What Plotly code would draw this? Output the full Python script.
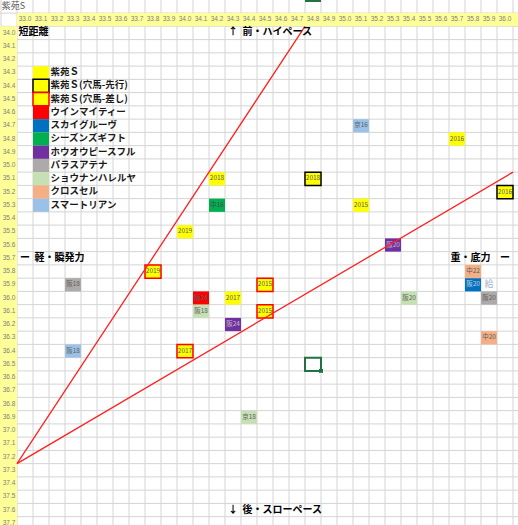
import plotly.graph_objects as go

# --- data ---
title = "紫苑S"
col_labels = ["33.0", "33.1", "33.2", "33.3", "33.4", "33.5", "33.6", "33.7", "33.8", "33.9",
              "34.0", "34.1", "34.2", "34.3", "34.4", "34.5", "34.6", "34.7", "34.8", "34.9",
              "35.0", "35.1", "35.2", "35.3", "35.4", "35.5", "35.6", "35.7", "35.8", "35.9", "36.0"]
row_labels = ["34.0", "34.1", "34.2", "34.3", "34.4", "34.5", "34.6", "34.7", "34.8", "34.9",
              "35.0", "35.1", "35.2", "35.3", "35.4", "35.5", "35.6", "35.7", "35.8", "35.9",
              "36.0", "36.1", "36.2", "36.3", "36.4", "36.5", "36.6", "36.7", "36.8", "36.9",
              "37.0", "37.1", "37.2", "37.3", "37.4", "37.5", "37.6", "37.7"]

shion_x = [34.2, 35.7, 35.1, 34.0, 34.3]
shion_y = [35.1, 34.8, 35.3, 35.5, 36.0]
shion_lbl = ["2018", "2016", "2015", "2019", "2017"]

senko_x = [34.8, 36.0]
senko_y = [35.1, 35.2]
senko_lbl = ["2018", "2016"]

sashi_x = [33.8, 34.5, 34.5, 34.0]
sashi_y = [35.8, 35.9, 36.1, 36.4]
sashi_lbl = ["2019", "2015", "2015", "2017"]

win_x, win_y, win_lbl = [34.1], [36.0], ["阪24"]
sky_x, sky_y, sky_lbl = [35.8], [35.9], ["阪20"]
season_x, season_y, season_lbl = [34.2], [35.3], ["中16"]
houou_x, houou_y, houou_lbl = [35.3, 34.3], [35.6, 36.2], ["阪20", "阪24"]
pallas_x, pallas_y, pallas_lbl = [33.3, 35.9], [35.9, 36.0], ["阪18", "阪20"]
shonan_x, shonan_y, shonan_lbl = [34.1, 35.4, 34.4], [36.1, 36.0, 36.9], ["阪18", "阪20", "京18"]
cross_x, cross_y, cross_lbl = [35.8, 35.9], [35.8, 36.3], ["中22", "中20"]
smart_x, smart_y, smart_lbl = [35.1, 33.3], [34.7, 36.4], ["京16", "阪18"]

# guide lines (pace / power)
pace_x, pace_y = [32.95, 34.75], [37.25, 33.95]
power_x, power_y = [32.95, 36.05], [37.25, 35.05]

series = [
    ("紫苑Ｓ", shion_x, shion_y, shion_lbl),
    ("紫苑Ｓ(穴馬-先行)", senko_x, senko_y, senko_lbl),
    ("紫苑Ｓ(穴馬-差し)", sashi_x, sashi_y, sashi_lbl),
    ("ウインマイティー", win_x, win_y, win_lbl),
    ("スカイグルーヴ", sky_x, sky_y, sky_lbl),
    ("シーズンズギフト", season_x, season_y, season_lbl),
    ("ホウオウピースフル", houou_x, houou_y, houou_lbl),
    ("パラスアテナ", pallas_x, pallas_y, pallas_lbl),
    ("ショウナンハレルヤ", shonan_x, shonan_y, shonan_lbl),
    ("クロスセル", cross_x, cross_y, cross_lbl),
    ("スマートリアン", smart_x, smart_y, smart_lbl),
]

# style per series: fill, border, label colour
style = {
    "紫苑Ｓ": ("#ffff00", None, "#5e5e5e"),
    "紫苑Ｓ(穴馬-先行)": ("#ffff00", "#000000", "#5e5e5e"),
    "紫苑Ｓ(穴馬-差し)": ("#ffff00", "#ff0000", "#5e5e5e"),
    "ウインマイティー": ("#ff0000", None, "#5e5e5e"),
    "スカイグルーヴ": ("#0070c0", None, "#c9d3de"),
    "シーズンズギフト": ("#00b050", None, "#4a4a4a"),
    "ホウオウピースフル": ("#7030a0", None, "#c6bccd"),
    "パラスアテナ": ("#aeaaaa", None, "#5e5e5e"),
    "ショウナンハレルヤ": ("#c6e0b4", None, "#5e5e5e"),
    "クロスセル": ("#f4b084", None, "#5e5e5e"),
    "スマートリアン": ("#9bc2e6", None, "#5e5e5e"),
}

JP = "Noto Sans CJK JP"
NUM = "Liberation Sans"
GRID = "#d4d4d4"
HDR = "#ffff99"
X0, X1 = 32.84375, 36.08125
Y0, Y1 = 33.751, 37.713
H = 0.05  # half a cell

fig = go.Figure()
shapes = []

# sheet grid
for i in range(33):
    x = 32.85 + i * 0.1
    shapes.append(dict(type="line", x0=x, x1=x, y0=Y0, y1=Y1, line=dict(color=GRID, width=1), layer="below"))
for i in range(41):
    y = 33.85 + i * 0.1
    shapes.append(dict(type="line", x0=X0, x1=X1, y0=y, y1=y, line=dict(color=GRID, width=1), layer="below"))

# yellow header row / column
shapes.append(dict(type="rect", x0=32.95, x1=X1, y0=33.85, y1=33.95, fillcolor=HDR, line=dict(width=0), layer="below"))
shapes.append(dict(type="rect", x0=X0, x1=32.95, y0=33.95, y1=Y1, fillcolor=HDR, line=dict(width=0), layer="below"))

fig.add_trace(go.Scatter(x=[float(c) for c in col_labels], y=[33.9] * len(col_labels), mode="text",
                         text=col_labels, textfont=dict(family=NUM, size=6.5, color="#808080"), hoverinfo="skip"))
fig.add_trace(go.Scatter(x=[32.9] * len(row_labels), y=[float(r) for r in row_labels], mode="text",
                         text=row_labels, textfont=dict(family=NUM, size=6.5, color="#808080"), hoverinfo="skip"))
fig.add_trace(go.Scatter(x=[32.855], y=[33.8], mode="text", text=[title], textposition="middle right",
                         textfont=dict(family=JP, size=9, color="#595959"), hoverinfo="skip"))

# legend block in the sheet
for k, (name, xs, ys, lbl) in enumerate(series):
    fill, border, _ = style[name]
    ry = 34.3 + k * 0.1
    shapes.append(dict(type="rect", x0=33.1 - H, x1=33.1 + H, y0=ry - H, y1=ry + H, fillcolor=fill,
                       line=dict(width=1.5 if border else 0, color=border or fill), layer="below"))
    fig.add_trace(go.Scatter(x=[33.16], y=[ry], mode="text", text=["<b>" + name + "</b>"],
                             textposition="middle right", textfont=dict(family=JP, size=9.5, color="#1a1a1a"),
                             hoverinfo="skip"))

# data cells
for name, xs, ys, lbl in series:
    fill, border, tcol = style[name]
    for x, y in zip(xs, ys):
        shapes.append(dict(type="rect", x0=x - H, x1=x + H, y0=y - H, y1=y + H, fillcolor=fill,
                           line=dict(width=1.5 if border else 0, color=border or fill), layer="below"))
    fig.add_trace(go.Scatter(x=xs, y=ys, mode="text", text=lbl, name=name,
                             textfont=dict(family=JP, size=6.5, color=tcol)))

# overflowing text next to the blue cell
fig.add_trace(go.Scatter(x=[35.9], y=[35.9], mode="text", text=["給"],
                         textfont=dict(family=JP, size=9, color="#9db3c8"), hoverinfo="skip"))

# red guide lines
fig.add_trace(go.Scatter(x=pace_x, y=pace_y, mode="lines", line=dict(color="#ff2020", width=1.3), hoverinfo="skip"))
fig.add_trace(go.Scatter(x=power_x, y=power_y, mode="lines", line=dict(color="#ff2020", width=1.3), hoverinfo="skip"))

# axis captions
caps = [
    (32.96, 34.0, "<b>短距離</b>", "middle right"),
    (34.3, 34.0, "<b>↑</b>", "middle center"),
    (34.36, 34.0, "<b>前・ハイペース</b>", "middle right"),
    (34.3, 37.6, "<b>↓</b>", "middle center"),
    (34.36, 37.6, "<b>後・スローペース</b>", "middle right"),
    (33.0, 35.7, "<b>ー</b>", "middle center"),
    (33.06, 35.7, "<b>軽・瞬発力</b>", "middle right"),
    (35.66, 35.7, "<b>重・底力</b>", "middle right"),
    (36.0, 35.7, "<b>ー</b>", "middle center"),
]
for x, y, t, pos in caps:
    fig.add_trace(go.Scatter(x=[x], y=[y], mode="text", text=[t], textposition=pos,
                             textfont=dict(family=JP, size=10, color="#000000"), hoverinfo="skip"))

# active cell selection
shapes.append(dict(type="rect", x0=34.75, x1=34.85, y0=36.45, y1=36.55, line=dict(color="#217346", width=2)))
shapes.append(dict(type="line", x0=34.75, x1=34.85, y0=Y0, y1=Y0, line=dict(color="#217346", width=4)))
fig.add_trace(go.Scatter(x=[34.85], y=[36.55], mode="markers",
                         marker=dict(symbol="square", size=5, color="#217346", line=dict(color="white", width=1)),
                         hoverinfo="skip"))

fig.update_layout(
    width=518, height=525, margin=dict(l=0, r=0, t=0, b=0),
    showlegend=False, plot_bgcolor="white", paper_bgcolor="white",
    shapes=shapes,
    xaxis=dict(range=[X0, X1], visible=False, fixedrange=True),
    yaxis=dict(range=[Y1, Y0], visible=False, fixedrange=True),
)
# page body margin would push the sheet 8px off, so drop it
fig.write_html("out.html", config={"displayModeBar": False},
               post_script="document.body.style.margin='0';document.body.style.overflow='hidden';")
